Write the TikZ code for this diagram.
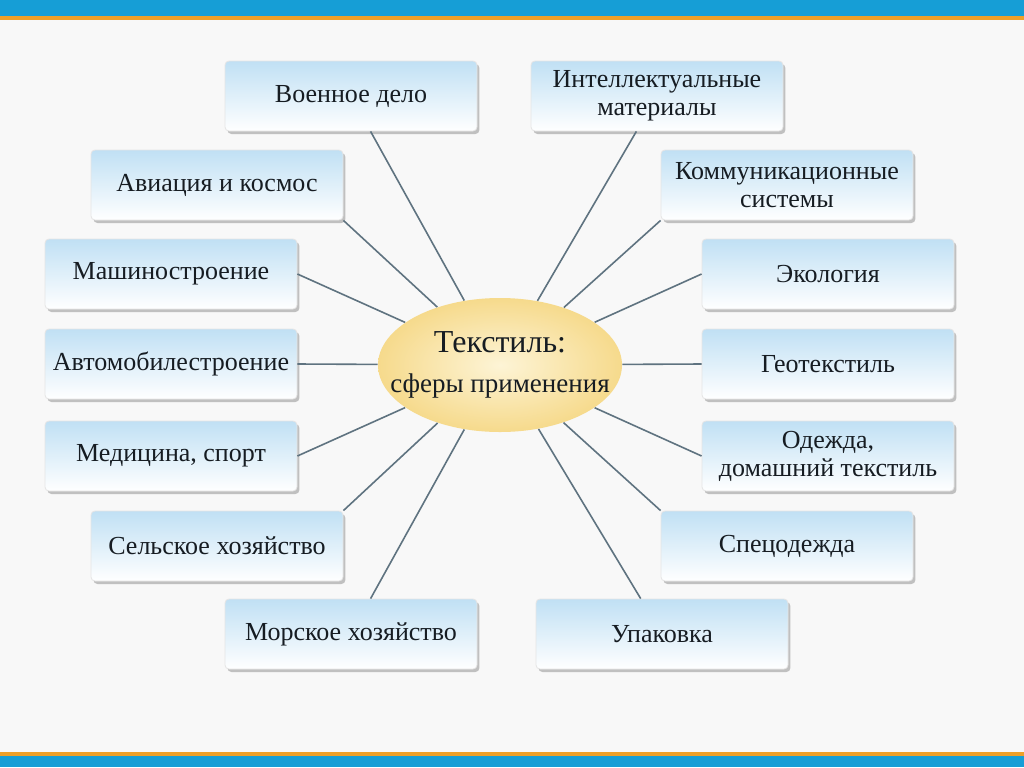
\documentclass[tikz,border=0pt]{standalone}
\usepackage{fontspec}
\setmainfont{Liberation Serif}
\usetikzlibrary{shapes.geometric,shadows}

\definecolor{barblue}{RGB}{22,158,214}
\definecolor{barorange}{RGB}{238,160,40}
\definecolor{boxtop}{RGB}{192,224,244}
\definecolor{linegray}{RGB}{95,115,128}
\definecolor{txt}{RGB}{22,28,34}
\definecolor{hubin}{RGB}{253,244,214}
\definecolor{hubout}{RGB}{246,218,140}
\definecolor{bg}{RGB}{248,248,248}

\tikzstyle{box} = [rectangle, rounded corners=2pt, top color=boxtop, bottom color=white, draw=gray!20,
  drop shadow={shadow xshift=1.2pt, shadow yshift=-1.5pt, fill=gray!60, opacity=.8},
  minimum width=126pt, minimum height=35pt, align=center, inner sep=2pt,
  font=\fontsize{13}{14}\selectfont, text=txt]
\tikzstyle{hub} = [ellipse, inner color=hubin, outer color=hubout, minimum width=122pt, minimum height=67pt,
  align=center, inner xsep=-12.5pt, inner ysep=0pt, text=txt, font=\fontsize{13.5}{19}\selectfont]
\tikzstyle{spoke} = [draw=linegray, line width=0.8pt]

\begin{document}
\begin{tikzpicture}[x=0.5pt,y=-0.5pt]
      \useasboundingbox (0,0) rectangle (1024,767);
      \fill[bg] (0,0) rectangle (1024,767);
      \fill[barblue] (0,0) rectangle (1024,17);
      \fill[barorange] (0,16) rectangle (1024,20);
      \fill[barorange] (0,752) rectangle (1024,757);
      \fill[barblue] (0,756) rectangle (1024,767);

      % left column
      \node[box] (voen) at (351,96) {Военное дело};
      \node[box] (avia) at (217,185) {Авиация и космос};
      \node[box] (mash) at (171,274) {Машиностроение};
      \node[box] (avto) at (171,364) {Автомобилестроение};
      \node[box] (medi) at (171,456) {Медицина, спорт};
      \node[box] (selh) at (217,546) {Сельское хозяйство};
      \node[box] (mors) at (351,634) {Морское хозяйство};
      % right column
      \node[box] (intm) at (657,96) {Интеллектуальные\\материалы};
      \node[box] (komm) at (787,185) {Коммуникационные\\системы};
      \node[box] (ekol) at (828,274) {Экология};
      \node[box] (geot) at (828,364) {Геотекстиль};
      \node[box] (odez) at (828,456) {Одежда,\\домашний текстиль};
      \node[box] (spec) at (787,546) {Спецодежда};
      \node[box] (upak) at (662,634) {Упаковка};

      \node[hub] (tex) at (500,365) {{\fontsize{16}{19}\selectfont Текстиль:}\\[1pt]сферы применения};

      \draw[spoke] (voen) -- (tex);
      \draw[spoke] (avia.south east) -- (tex);
      \draw[spoke] (mash.east) -- (tex);
      \draw[spoke] (avto.east) -- (tex);
      \draw[spoke] (medi.east) -- (tex);
      \draw[spoke] (selh.north east) -- (tex);
      \draw[spoke] (mors) -- (tex);
      \draw[spoke] (intm) -- (tex);
      \draw[spoke] (komm.south west) -- (tex);
      \draw[spoke] (ekol.west) -- (tex);
      \draw[spoke] (geot.west) -- (tex);
      \draw[spoke] (odez.west) -- (tex);
      \draw[spoke] (spec.north west) -- (tex);
      \draw[spoke] (upak) -- (tex);
    \end{tikzpicture}
\end{document}
